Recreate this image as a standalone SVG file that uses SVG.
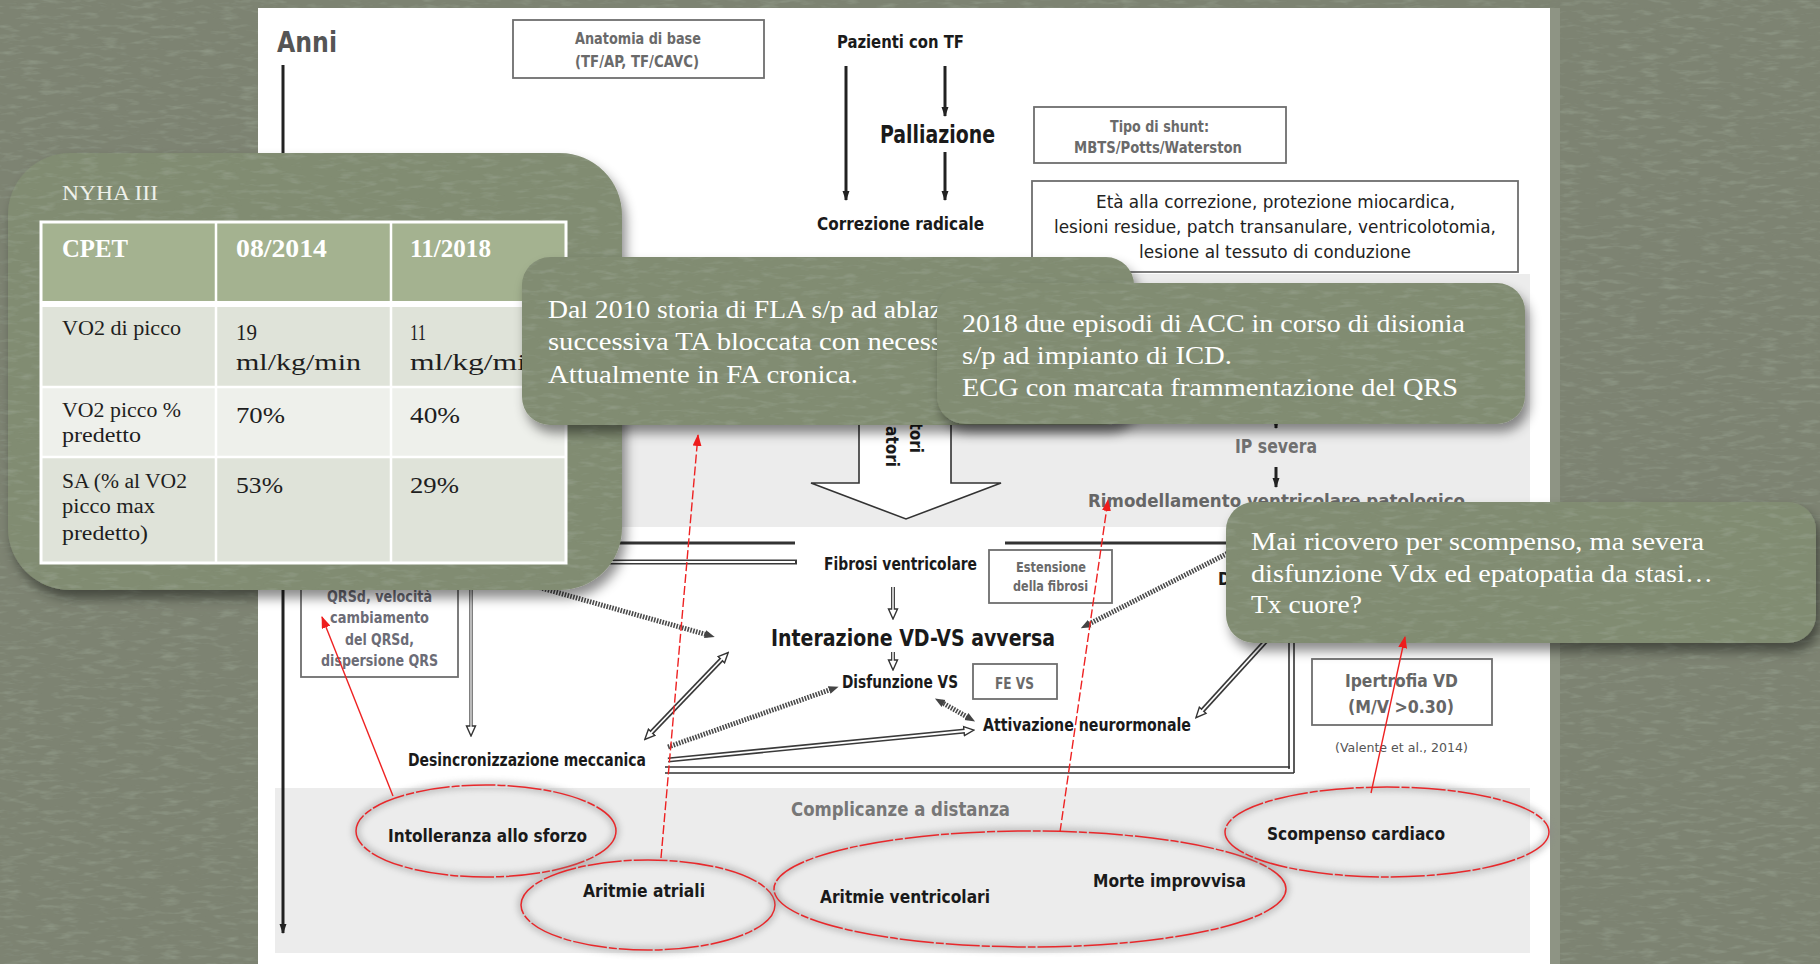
<svg xmlns="http://www.w3.org/2000/svg" width="1820" height="964" viewBox="0 0 1820 964">
<defs>
<style>
.d{font-family:"Liberation Sans Narrow","DejaVu Sans Condensed","Liberation Sans",sans-serif;font-weight:bold;fill:#1a1a1a}
.n{font-weight:normal;fill:#222}
.g{fill:#6a6a6a}
.s{font-family:"Liberation Serif","DejaVu Serif",serif;fill:#ffffff}
.t{font-family:"Liberation Serif","DejaVu Serif",serif;fill:#1e1e1e}
.box{fill:#fff;stroke:#6e6e6e;stroke-width:1.8}
.call{fill:#818c72}
.ell{fill:none;stroke:#e8282b;stroke-width:1.5;stroke-dasharray:34 2 8 2}
.eshade{fill:none;stroke:#8a8a8a;stroke-width:7;opacity:0.45}
.red{stroke:#ee2222;stroke-width:1.4;fill:none}
.dash{stroke-dasharray:9 3}
.thin{stroke:#222;stroke-width:3;fill:none}
.hol{stroke:#3a3a3a;stroke-width:5;fill:none}
.holin{stroke:#fff;stroke-width:1.8;fill:none}
.hat{stroke:#4a4a4a;stroke-width:5;stroke-dasharray:1.6 1.3;fill:none}
</style>
<filter id="sh" x="-10%" y="-10%" width="125%" height="135%">
<feDropShadow dx="4" dy="8" stdDeviation="6" flood-color="#000" flood-opacity="0.45"/>
</filter>
<filter id="blur" x="-10%" y="-20%" width="120%" height="140%">
<feGaussianBlur stdDeviation="3"/>
</filter>
<filter id="tex" x="0" y="0" width="100%" height="100%">
<feTurbulence type="fractalNoise" baseFrequency="0.05 0.2" numOctaves="3" seed="5" result="n"/>
<feColorMatrix in="n" type="matrix" values="0 0 0 0 0.36  0 0 0 0 0.41  0 0 0 0 0.32  0 0 0 1.0 -0.5" result="spots"/>
<feComposite in="spots" in2="SourceGraphic" operator="in" result="s2"/>
<feMerge><feMergeNode in="SourceGraphic"/><feMergeNode in="s2"/></feMerge>
</filter>
<marker id="ah" markerUnits="userSpaceOnUse" markerWidth="10" markerHeight="10" viewBox="0 0 10 10" refX="9" refY="5" orient="auto"><path d="M0,1.5 L10,5 L0,8.5 z" fill="#222"/></marker>
<marker id="ho" markerUnits="userSpaceOnUse" markerWidth="12" markerHeight="12" viewBox="0 0 12 12" refX="2" refY="6" orient="auto-start-reverse"><path d="M1,1.5 L11,6 L1,10.5 z" fill="#fff" stroke="#333" stroke-width="1.4"/></marker>
<marker id="hh" markerUnits="userSpaceOnUse" markerWidth="10" markerHeight="10" viewBox="0 0 10 10" refX="3" refY="5" orient="auto-start-reverse"><path d="M0,1 L10,5 L0,9 z" fill="#444"/></marker>
<marker id="ar" markerUnits="userSpaceOnUse" markerWidth="12" markerHeight="9" viewBox="0 0 12 9" refX="11" refY="4.5" orient="auto"><path d="M0,0 L12,4.5 L0,9 z" fill="#ee1c1c"/></marker>
</defs>

<rect x="0" y="0" width="1820" height="964" fill="#7d8372" filter="url(#tex)"/>
<rect x="1550" y="8" width="10" height="956" fill="#8e9484"/>
<rect id="panel" x="258" y="8" width="1292" height="956" fill="#ffffff"/>
<rect x="275" y="274" width="1255" height="253" fill="#ececec"/>
<rect x="275" y="788" width="1255" height="165" fill="#ececec"/>

<g id="connectors">
<path class="thin" d="M283,65 V933" stroke="#5a5a5a" marker-end="url(#ah)"/>
<path class="thin" d="M846,66 V200" marker-end="url(#ah)"/>
<path class="thin" d="M945,66 V116" marker-end="url(#ah)"/>
<path class="thin" d="M945,152 V200" marker-end="url(#ah)"/>
<path class="thin" d="M1276,410 V428" marker-end="url(#ah)"/>
<path class="thin" d="M1276,467 V487" marker-end="url(#ah)"/>
<polygon points="859,380 859,483 811,483 906,519 1001,483 951,483 951,380" fill="#fff" stroke="#333" stroke-width="1.6"/>
<path d="M560,543 H795 M1005,543 H1294" stroke="#333" stroke-width="3" fill="none"/>
<path d="M1289,540 V769 M1294,540 V773" stroke="#333" stroke-width="1.6" fill="none"/>
<path d="M665,767 H1290 M665,773 H1294" stroke="#333" stroke-width="1.6" fill="none"/>
<path class="hol" d="M560,562 H797"/><path class="holin" d="M560,562 H795"/>
<path d="M471,590 V727" stroke="#555" stroke-width="3.5" fill="none" marker-end="url(#ho)"/><path d="M471,590 V727" stroke="#fff" stroke-width="1.2" fill="none"/>
<path d="M893,587 V610" stroke="#444" stroke-width="4" fill="none" marker-end="url(#ho)"/><path d="M893,587 V610" stroke="#fff" stroke-width="1.4" fill="none"/>
<path d="M893,652 V661" stroke="#444" stroke-width="4" fill="none" marker-end="url(#ho)"/><path d="M893,652 V661" stroke="#fff" stroke-width="1.4" fill="none"/>
<path class="hat" d="M520,582 L708,635" marker-end="url(#hh)"/>
<path class="hol" d="M651,733 L722,659" marker-start="url(#ho)" marker-end="url(#ho)"/><path class="holin" d="M651,733 L722,659"/>
<path class="hat" d="M668,747 L832,689" marker-end="url(#hh)"/>
<path class="hol" d="M668,760 L965,731" marker-end="url(#ho)"/><path class="holin" d="M668,760 L965,731"/>
<path class="hat" d="M941,702 L969,718" marker-start="url(#hh)" marker-end="url(#hh)"/>
<path class="hat" d="M1240,547 L1087,625" marker-end="url(#hh)"/>
<path class="hol" d="M1285,620 L1202,711" marker-end="url(#ho)"/><path class="holin" d="M1285,620 L1202,711"/>
</g>

<g id="n-anni"><text class="d" x="277" y="52" font-size="28" style="fill:#555" textLength="60" lengthAdjust="spacingAndGlyphs">Anni</text></g>
<g id="n-anatomia"><rect class="box" x="513" y="20" width="251" height="58"/>
<text class="d g" x="575" y="44" font-size="15" textLength="126" lengthAdjust="spacingAndGlyphs">Anatomia di base</text>
<text class="d g" x="575" y="67" font-size="15" textLength="124" lengthAdjust="spacingAndGlyphs">(TF/AP, TF/CAVC)</text></g>
<g id="n-pazienti"><text class="d" x="837" y="48" font-size="17" textLength="127" lengthAdjust="spacingAndGlyphs">Pazienti con TF</text></g>
<g id="n-palliazione"><text class="d" x="880" y="143" font-size="24" textLength="115" lengthAdjust="spacingAndGlyphs">Palliazione</text></g>
<g id="n-correzione"><text class="d" x="817" y="230" font-size="17" textLength="167" lengthAdjust="spacingAndGlyphs">Correzione radicale</text></g>
<g id="n-shunt"><rect class="box" x="1034" y="107" width="252" height="56"/>
<text class="d g" x="1110" y="132" font-size="15" textLength="99" lengthAdjust="spacingAndGlyphs">Tipo di shunt:</text>
<text class="d g" x="1074" y="153" font-size="15" textLength="168" lengthAdjust="spacingAndGlyphs">MBTS/Potts/Waterston</text></g>
<g id="n-eta"><rect class="box" x="1032" y="181" width="486" height="91"/>
<text class="d n" x="1096" y="208" font-size="17" textLength="359" lengthAdjust="spacingAndGlyphs">Età alla correzione, protezione miocardica,</text>
<text class="d n" x="1054" y="233" font-size="17" textLength="442" lengthAdjust="spacingAndGlyphs">lesioni residue, patch transanulare, ventricolotomia,</text>
<text class="d n" x="1139" y="258" font-size="17" textLength="272" lengthAdjust="spacingAndGlyphs">lesione al tessuto di conduzione</text></g>
<g id="n-fattori"><text class="d" font-size="17" text-anchor="end" transform="translate(910,453) rotate(90)">tori</text>
<text class="d" font-size="17" text-anchor="end" transform="translate(886,467) rotate(90)">atori</text></g>
<g id="n-ip"><text class="d" x="1235" y="453" font-size="20" style="fill:#707070" textLength="82" lengthAdjust="spacingAndGlyphs">IP severa</text></g>
<g id="n-rimod"><text class="d" x="1088" y="507" font-size="18" style="fill:#666" textLength="377" lengthAdjust="spacingAndGlyphs">Rimodellamento ventricolare patologico</text></g>
<g id="n-fibrosi"><text class="d" x="824" y="570" font-size="17" textLength="153" lengthAdjust="spacingAndGlyphs">Fibrosi ventricolare</text></g>
<g id="n-estensione"><rect class="box" x="989" y="550" width="123" height="53"/>
<text class="d g" x="1016" y="572" font-size="14" textLength="70" lengthAdjust="spacingAndGlyphs">Estensione</text>
<text class="d g" x="1013" y="591" font-size="14" textLength="75" lengthAdjust="spacingAndGlyphs">della fibrosi</text></g>
<g id="n-interazione"><text class="d" x="771" y="646" font-size="23" textLength="284" lengthAdjust="spacingAndGlyphs">Interazione VD-VS avversa</text></g>
<g id="n-disfunzione"><text class="d" x="842" y="688" font-size="17" textLength="116" lengthAdjust="spacingAndGlyphs">Disfunzione VS</text></g>
<g id="n-fevs"><rect class="box" x="973" y="664" width="84" height="35"/>
<text class="d g" x="995" y="689" font-size="15" textLength="39" lengthAdjust="spacingAndGlyphs">FE VS</text></g>
<g id="n-attivazione"><text class="d" x="983" y="731" font-size="17" textLength="208" lengthAdjust="spacingAndGlyphs">Attivazione neurormonale</text></g>
<g id="n-desincr"><text class="d" x="408" y="766" font-size="17" textLength="238" lengthAdjust="spacingAndGlyphs">Desincronizzazione meccanica</text></g>
<g id="n-qrsd"><rect class="box" x="301" y="560" width="157" height="117"/>
<text class="d" x="327" y="602" font-size="16" style="fill:#6c6c76" textLength="105" lengthAdjust="spacingAndGlyphs">QRSd, velocità</text>
<text class="d" x="330" y="623" font-size="16" style="fill:#6c6c76" textLength="99" lengthAdjust="spacingAndGlyphs">cambiamento</text>
<text class="d" x="345" y="645" font-size="16" style="fill:#6c6c76" textLength="69" lengthAdjust="spacingAndGlyphs">del QRSd,</text>
<text class="d" x="321" y="666" font-size="16" style="fill:#6c6c76" textLength="117" lengthAdjust="spacingAndGlyphs">dispersione QRS</text></g>
<g id="n-dil"><text class="d" x="1218" y="585" font-size="17">D</text></g>
<g id="n-ipertrofia"><rect class="box" x="1312" y="659" width="180" height="66"/>
<text class="d" x="1345" y="687" font-size="18" style="fill:#666" textLength="113" lengthAdjust="spacingAndGlyphs">Ipertrofia VD</text>
<text class="d" x="1348" y="713" font-size="18" style="fill:#666" textLength="106" lengthAdjust="spacingAndGlyphs">(M/V &gt;0.30)</text></g>
<g id="n-valente"><text class="d n" x="1335" y="752" font-size="13" style="fill:#555" textLength="133" lengthAdjust="spacingAndGlyphs">(Valente et al., 2014)</text></g>
<g id="n-complicanze"><text class="d" x="791" y="816" font-size="19" style="fill:#777" textLength="219" lengthAdjust="spacingAndGlyphs">Complicanze a distanza</text></g>

<g id="n-intolleranza"><ellipse class="eshade" cx="486" cy="831" rx="130" ry="46" filter="url(#blur)"/><ellipse class="ell" cx="486" cy="831" rx="130" ry="46"/>
<text class="d" x="388" y="842" font-size="18" textLength="199" lengthAdjust="spacingAndGlyphs">Intolleranza allo sforzo</text></g>
<g id="n-atriali"><ellipse class="eshade" cx="648" cy="905" rx="127" ry="45" filter="url(#blur)"/><ellipse class="ell" cx="648" cy="905" rx="127" ry="45"/>
<text class="d" x="583" y="897" font-size="18" textLength="122" lengthAdjust="spacingAndGlyphs">Aritmie atriali</text></g>
<g id="n-ventricolari"><ellipse class="eshade" cx="1030" cy="889" rx="256" ry="58" filter="url(#blur)"/><ellipse class="ell" cx="1030" cy="889" rx="256" ry="58"/>
<text class="d" x="820" y="903" font-size="18" textLength="170" lengthAdjust="spacingAndGlyphs">Aritmie ventricolari</text>
<text class="d" x="1093" y="887" font-size="18" textLength="153" lengthAdjust="spacingAndGlyphs">Morte improvvisa</text></g>
<g id="n-scompenso"><ellipse class="eshade" cx="1387" cy="832" rx="162" ry="45" filter="url(#blur)"/><ellipse class="ell" cx="1387" cy="832" rx="162" ry="45"/>
<text class="d" x="1267" y="840" font-size="18" textLength="178" lengthAdjust="spacingAndGlyphs">Scompenso cardiaco</text></g>

<g id="n-cpet">
<g filter="url(#sh)"><rect class="call" x="8" y="153" width="614" height="437" rx="62" filter="url(#tex)"/></g>
<text class="s" x="62" y="200" font-size="20" style="fill:#eef0ea" textLength="96" lengthAdjust="spacingAndGlyphs">NYHA III</text>
<rect x="41" y="222" width="525" height="79" fill="#a4b290"/>
<rect x="41" y="301" width="525" height="6" fill="#fff"/>
<rect x="41" y="307" width="525" height="80" fill="#dfe3d9"/>
<rect x="41" y="387" width="525" height="70" fill="#eef0eb"/>
<rect x="41" y="457" width="525" height="106" fill="#dfe3d9"/>
<path d="M216,222 V563 M391,222 V563 M41,387 H566 M41,457 H566" stroke="#fff" stroke-width="2.5" fill="none"/>
<rect x="41" y="222" width="525" height="341" fill="none" stroke="#fff" stroke-width="3"/>
<text class="s" x="62" y="257" font-size="25" font-weight="bold" textLength="66" lengthAdjust="spacingAndGlyphs">CPET</text>
<text class="s" x="236" y="257" font-size="25" font-weight="bold" textLength="91" lengthAdjust="spacingAndGlyphs">08/2014</text>
<text class="s" x="410" y="257" font-size="25" font-weight="bold" textLength="81" lengthAdjust="spacingAndGlyphs">11/2018</text>
<text class="t" x="62" y="335" font-size="20" textLength="119" lengthAdjust="spacingAndGlyphs">VO2 di picco</text>
<text class="t" x="236" y="340" font-size="24" textLength="21" lengthAdjust="spacingAndGlyphs">19</text>
<text class="t" x="236" y="370" font-size="24" textLength="125" lengthAdjust="spacingAndGlyphs">ml/kg/min</text>
<text class="t" x="410" y="340" font-size="24" textLength="16" lengthAdjust="spacingAndGlyphs">11</text>
<text class="t" x="410" y="370" font-size="24" textLength="116" lengthAdjust="spacingAndGlyphs">ml/kg/mi</text>
<text class="t" x="62" y="417" font-size="20" textLength="119" lengthAdjust="spacingAndGlyphs">VO2 picco %</text>
<text class="t" x="62" y="442" font-size="20" textLength="79" lengthAdjust="spacingAndGlyphs">predetto</text>
<text class="t" x="236" y="423" font-size="24" textLength="49" lengthAdjust="spacingAndGlyphs">70%</text>
<text class="t" x="410" y="423" font-size="24" textLength="50" lengthAdjust="spacingAndGlyphs">40%</text>
<text class="t" x="62" y="488" font-size="20" textLength="125" lengthAdjust="spacingAndGlyphs">SA (% al VO2</text>
<text class="t" x="62" y="513" font-size="20" textLength="93" lengthAdjust="spacingAndGlyphs">picco max</text>
<text class="t" x="62" y="540" font-size="20" textLength="86" lengthAdjust="spacingAndGlyphs">predetto)</text>
<text class="t" x="236" y="493" font-size="24" textLength="47" lengthAdjust="spacingAndGlyphs">53%</text>
<text class="t" x="410" y="493" font-size="24" textLength="49" lengthAdjust="spacingAndGlyphs">29%</text>
</g>

<g id="n-fla">
<g filter="url(#sh)"><rect class="call" x="522" y="257" width="612" height="168" rx="28" filter="url(#tex)"/></g>
<text class="s" x="548" y="318" font-size="25" textLength="394" lengthAdjust="spacingAndGlyphs">Dal 2010 storia di FLA s/p ad ablaz</text>
<text class="s" x="548" y="350" font-size="25" textLength="394" lengthAdjust="spacingAndGlyphs">successiva TA bloccata con necess</text>
<text class="s" x="548" y="383" font-size="25" textLength="310" lengthAdjust="spacingAndGlyphs">Attualmente in FA cronica.</text>
</g>

<g id="n-acc">
<g filter="url(#sh)"><rect class="call" x="937" y="283" width="588" height="141" rx="28" filter="url(#tex)"/></g>
<text class="s" x="962" y="332" font-size="25" textLength="503" lengthAdjust="spacingAndGlyphs">2018 due episodi di ACC in corso di disionia</text>
<text class="s" x="962" y="364" font-size="25" textLength="270" lengthAdjust="spacingAndGlyphs">s/p ad impianto di ICD.</text>
<text class="s" x="962" y="396" font-size="25" textLength="496" lengthAdjust="spacingAndGlyphs">ECG con marcata frammentazione del QRS</text>
</g>

<g id="n-tx">
<g filter="url(#sh)"><rect class="call" x="1226" y="502" width="590" height="141" rx="28" filter="url(#tex)"/></g>
<text class="s" x="1251" y="550" font-size="25" textLength="453" lengthAdjust="spacingAndGlyphs">Mai ricovero per scompenso, ma severa</text>
<text class="s" x="1251" y="582" font-size="25" textLength="462" lengthAdjust="spacingAndGlyphs">disfunzione Vdx ed epatopatia da stasi…</text>
<text class="s" x="1251" y="613" font-size="25" textLength="111" lengthAdjust="spacingAndGlyphs">Tx cuore?</text>
</g>

<g id="red-connectors">
<path class="red" d="M393,796 L322,617" marker-end="url(#ar)"/>
<path class="red dash" d="M661,858 L698,435" marker-end="url(#ar)"/>
<path class="red dash" d="M1060,832 L1108,500" marker-end="url(#ar)"/>
<path class="red" d="M1371,793 L1405,637" marker-end="url(#ar)"/>
</g>
</svg>
